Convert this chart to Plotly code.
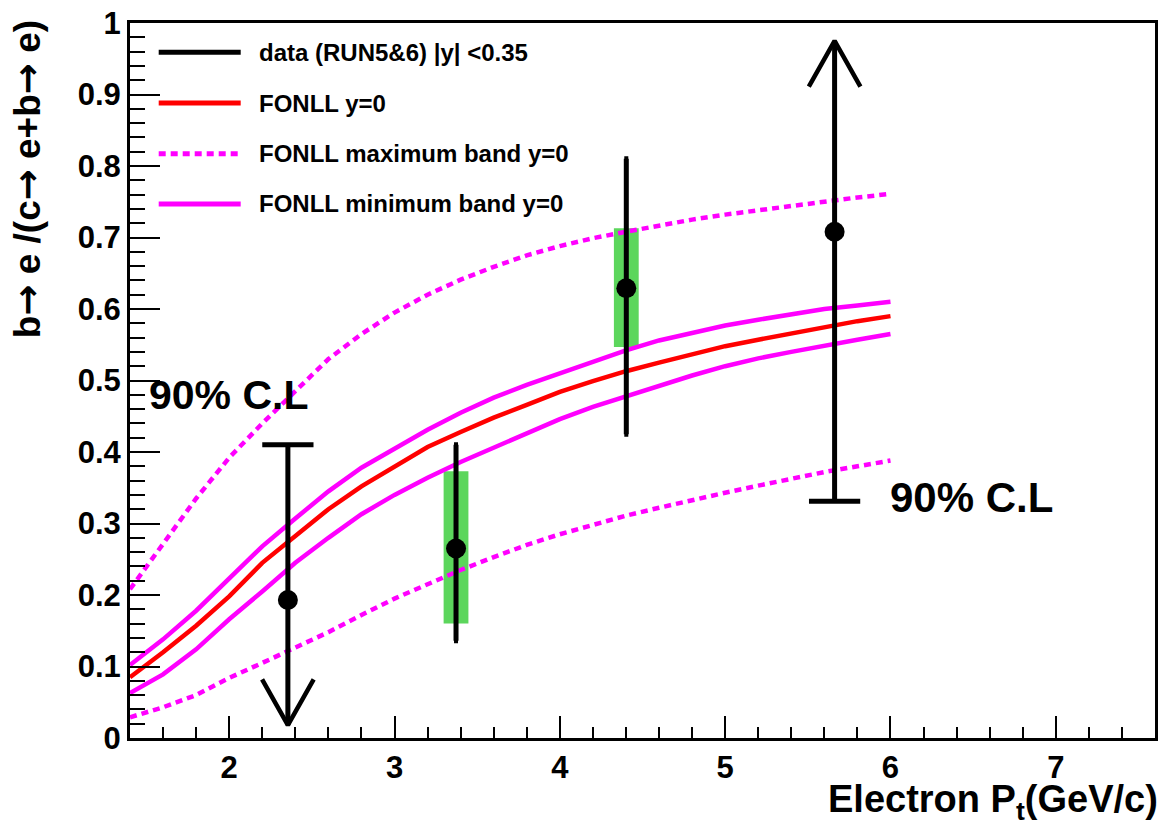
import plotly.graph_objects as go

# ---------------- data ----------------
pt_grid = [1.4, 1.6, 1.8, 2.0, 2.2, 2.4, 2.6, 2.8, 3.0, 3.2, 3.4, 3.6,
           3.8, 4.0, 4.2, 4.4, 4.6, 4.8, 5.0, 5.2, 5.4, 5.6, 5.8, 6.0]
fonll_central = [0.085, 0.120, 0.157, 0.198, 0.245, 0.283, 0.320, 0.352, 0.380, 0.407, 0.428, 0.448,
                 0.466, 0.484, 0.499, 0.513, 0.525, 0.537, 0.548, 0.557, 0.566, 0.574, 0.583, 0.590]
fonll_min_hi = [0.102, 0.138, 0.178, 0.224, 0.268, 0.307, 0.345, 0.378, 0.405, 0.431, 0.455, 0.476,
                0.494, 0.510, 0.527, 0.542, 0.556, 0.567, 0.577, 0.585, 0.593, 0.600, 0.605, 0.610]
fonll_min_lo = [0.063, 0.089, 0.124, 0.166, 0.205, 0.245, 0.280, 0.313, 0.340, 0.364, 0.386, 0.406,
                0.427, 0.446, 0.463, 0.478, 0.493, 0.507, 0.520, 0.531, 0.540, 0.549, 0.557, 0.565]
fonll_max_hi = [0.208, 0.272, 0.335, 0.392, 0.440, 0.485, 0.530, 0.565, 0.595, 0.620, 0.641, 0.659,
                0.675, 0.688, 0.699, 0.708, 0.717, 0.725, 0.732, 0.738, 0.745, 0.750, 0.756, 0.761]
fonll_max_lo = [0.029, 0.043, 0.060, 0.084, 0.105, 0.126, 0.148, 0.172, 0.195, 0.215, 0.235, 0.253,
                0.270, 0.285, 0.298, 0.311, 0.322, 0.333, 0.343, 0.353, 0.363, 0.372, 0.380, 0.388]

# measured points (with stat. error bars and syst. boxes)
meas_pt = [3.372, 4.402]
meas_val = [0.265, 0.629]
stat_top = [0.410, 0.810]
stat_bot = [0.136, 0.425]
syst_top = [0.373, 0.713]
syst_bot = [0.160, 0.547]

# points given as 90% C.L. limits
limit_pt = [2.355, 5.662]
limit_val = [0.193, 0.708]
limit_cl = [0.410, 0.331]
arrow_tip = [0.018, 0.975]

legend_labels = ["data (RUN5&6) |y| <0.35", "FONLL y=0",
                 "FONLL maximum band y=0", "FONLL minimum band y=0"]
cl_label = "90% C.L"

# ---------------- style ----------------
FONT = "Liberation Sans"
RED = "#ff0000"
MAG = "#ff00ff"
GREEN = "rgb(92,214,92)"
LW = 4.5
DOT = "7px,5px"
BOX_W = 0.15
CAP_HALF = 0.155
ARROW_HALF = 0.156
ARROW_LEN = 0.064

fig = go.Figure()

# syst boxes
fig.add_trace(go.Bar(x=meas_pt, y=[t - b for t, b in zip(syst_top, syst_bot)], base=syst_bot,
                     width=BOX_W, marker=dict(color=GREEN, line=dict(width=0)),
                     showlegend=False, hoverinfo="skip"))

# FONLL curves
fig.add_trace(go.Scatter(x=pt_grid, y=fonll_max_hi, mode="lines",
                         line=dict(color=MAG, width=LW, dash=DOT), showlegend=False))
fig.add_trace(go.Scatter(x=pt_grid, y=fonll_max_lo, mode="lines",
                         line=dict(color=MAG, width=LW, dash=DOT), showlegend=False))
fig.add_trace(go.Scatter(x=pt_grid, y=fonll_min_hi, mode="lines",
                         line=dict(color=MAG, width=LW), showlegend=False))
fig.add_trace(go.Scatter(x=pt_grid, y=fonll_min_lo, mode="lines",
                         line=dict(color=MAG, width=LW), showlegend=False))
fig.add_trace(go.Scatter(x=pt_grid, y=fonll_central, mode="lines",
                         line=dict(color=RED, width=LW), showlegend=False))

# limits: vertical line, cap and open arrow head
for x, lim, tip in zip(limit_pt, limit_cl, arrow_tip):
    d = 1 if lim > tip else -1
    fig.add_trace(go.Scatter(x=[x, x], y=[lim, tip], mode="lines",
                             line=dict(color="black", width=5), showlegend=False))
    fig.add_trace(go.Scatter(x=[x - CAP_HALF, x + CAP_HALF], y=[lim, lim], mode="lines",
                             line=dict(color="black", width=5), showlegend=False))
    fig.add_trace(go.Scatter(x=[x - ARROW_HALF, x, x + ARROW_HALF],
                             y=[tip + d * ARROW_LEN, tip, tip + d * ARROW_LEN], mode="lines",
                             line=dict(color="black", width=4.5), showlegend=False))

fig.add_trace(go.Scatter(x=limit_pt, y=limit_val, mode="markers",
                         marker=dict(color="black", size=20), showlegend=False))

# measured points
fig.add_trace(go.Scatter(
    x=meas_pt, y=meas_val, mode="markers",
    marker=dict(color="black", size=20),
    error_y=dict(type="data", symmetric=False,
                 array=[t - v for t, v in zip(stat_top, meas_val)],
                 arrayminus=[v - b for v, b in zip(meas_val, stat_bot)],
                 color="black", thickness=5, width=2),
    showlegend=False))

# manual legend (ROOT style)
leg_colors = ["black", RED, MAG, MAG]
leg_dash = ["solid", "solid", DOT, "solid"]
leg_y = [0.959, 0.888, 0.817, 0.747]
for lab, c, dsh, yy in zip(legend_labels, leg_colors, leg_dash, leg_y):
    fig.add_shape(type="line", xref="paper", yref="paper", x0=0.028, x1=0.108, y0=yy, y1=yy,
                  line=dict(color=c, width=5, dash=dsh))
    fig.add_annotation(xref="paper", yref="paper", x=0.1235, y=yy, text=lab, showarrow=False,
                       xanchor="left", yanchor="middle",
                       font=dict(family=FONT, size=24, color="black", weight="bold"))

# 90% C.L labels
fig.add_annotation(x=1.503, y=0.48, text=cl_label, showarrow=False, xanchor="left", yanchor="middle",
                   font=dict(family=FONT, size=41, color="black", weight="bold"))
fig.add_annotation(x=5.984, y=0.336, text=cl_label, showarrow=False, xanchor="left", yanchor="middle",
                   font=dict(family=FONT, size=42, color="black", weight="bold"))

# axis titles
fig.add_annotation(xref="paper", yref="paper", x=1.005, y=-0.09, xanchor="right", yanchor="middle",
                   text="Electron P<sub>t</sub>(GeV/c)", showarrow=False,
                   font=dict(family=FONT, size=38, color="black", weight="bold"))
ARW = '<span style="font-family:DejaVu Sans">\u2192</span>'
fig.add_annotation(xref="paper", yref="paper", x=-0.1, y=1.006, xanchor="center", yanchor="top",
                   textangle=-90, text=f"b{ARW} e /(c{ARW} e+b{ARW} e)", showarrow=False,
                   font=dict(family=FONT, size=37, color="black", weight="bold"))

axis_common = dict(showline=True, linecolor="black", linewidth=3, mirror=True,
                   showgrid=False, zeroline=False, ticks="inside", tickcolor="black",
                   tickwidth=2, ticklabeloverflow="allow",
                   tickfont=dict(family=FONT, size=31, color="black", weight="bold"))

fig.update_xaxes(range=[1.4, 7.6], tick0=0, dtick=1, ticklen=22, ticklabelstandoff=0,
                 minor=dict(ticks="inside", ticklen=11, tickwidth=2, tickcolor="black",
                            tick0=0, dtick=0.2, showgrid=False),
                 **axis_common)
fig.update_yaxes(range=[0, 1], tick0=0, dtick=0.1, ticklen=30, ticklabelstandoff=0,
                 minor=dict(ticks="inside", ticklen=15, tickwidth=2, tickcolor="black",
                            tick0=0, dtick=0.02, showgrid=False),
                 **axis_common)

fig.update_layout(width=1164, height=827, margin=dict(l=130, r=6, t=13, b=89),
                  paper_bgcolor="white", plot_bgcolor="white", barmode="overlay",
                  showlegend=False, font=dict(family=FONT))

fig.write_html("out.html", config={"displayModeBar": False},
               post_script="document.body.style.margin='0';document.body.style.overflow='hidden';")
